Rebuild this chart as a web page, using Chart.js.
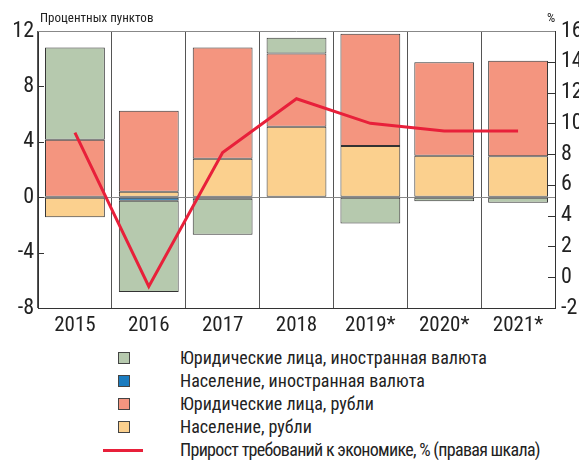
<!DOCTYPE html>
<html>
<head>
<meta charset="utf-8">
<script src="https://cdn.jsdelivr.net/npm/chart.js@4"></script>
<style>
  body { margin: 0; background: #fff; }
  #wrap { position: relative; width: 579px; height: 460px; font-family: Roboto, sans-serif; font-stretch: 75%; color: #222; }
  #grafica { position: absolute; left: 0; top: 0; }
  .titulo { position: absolute; font-size: 13px; }
  .leyenda { position: absolute; left: 0; top: 345px; width: 579px; }
  .item { position: absolute; left: 180px; font-size: 18px; line-height: 20px; white-space: nowrap; }
  .caja { position: absolute; left: -62px; top: 4px; width: 10px; height: 10px; border: 1px solid #444; }
  .linea { position: absolute; left: -77px; top: 9px; width: 40px; height: 3px; background: #e8203a; }
</style>
</head>
<body>
<div id="wrap">
  <canvas id="grafica" width="579" height="345"></canvas>
  <div class="titulo" style="left:40px; top:10px;">Процентных пунктов</div>
  <div class="titulo" style="left:547px; top:10px;">%</div>
  <div class="leyenda" id="leyenda"></div>
</div>
<script>
// datos
const anios = ['2015', '2016', '2017', '2018', '2019*', '2020*', '2021*'];
const poblacionRublos = [-1.45, 0.4, 2.77, 5.08, 3.7, 3.0, 2.95];
const empresasRublos = [4.15, 5.85, 8.03, 5.3, 8.1, 6.75, 6.9];
const poblacionDivisas = [null, -0.25, -0.12, null, null, null, null];
const empresasDivisas = [6.65, -6.6, -2.6, 1.13, -1.9, -0.3, -0.4];
const crecimiento = [9.4, -0.6, 8.1, 11.6, 10.0, 9.5, 9.5];

const verde = '#b6c9ae';
const azul = '#1b7cc0';
const rojo = '#f4957f';
const amarillo = '#fbd08e';
const rojoLinea = '#e8203a';

// Roboto estrechada (condensed) via el peso del shorthand
const fuente = (size) => ({ family: 'Roboto', size: size, weight: 'normal condensed' });

// marcas de los ejes hacia dentro del area
const marcasInternas = {
  id: 'marcasInternas',
  afterDatasetsDraw(chart) {
    const ctx = chart.ctx;
    const area = chart.chartArea;
    ctx.save();
    ctx.strokeStyle = '#333';
    ctx.lineWidth = 1;
    chart.scales.y.ticks.forEach(t => {
      const py = Math.round(chart.scales.y.getPixelForValue(t.value)) + 0.5;
      ctx.beginPath(); ctx.moveTo(area.left, py); ctx.lineTo(area.left + 6, py); ctx.stroke();
    });
    chart.scales.y2.ticks.forEach(t => {
      const py = Math.round(chart.scales.y2.getPixelForValue(t.value)) + 0.5;
      ctx.beginPath(); ctx.moveTo(area.right - 7, py); ctx.lineTo(area.right, py); ctx.stroke();
    });
    ctx.strokeStyle = '#888';
    ctx.beginPath(); ctx.moveTo(area.left, area.top + 0.5); ctx.lineTo(area.right, area.top + 0.5); ctx.stroke();
    ctx.restore();
  }
};

const barra = (label, data, color) => ({
  type: 'bar', label: label, data: data, backgroundColor: color,
  borderColor: '#333', borderWidth: 1, borderSkipped: false,
  yAxisID: 'y', stack: 's', order: 1,
  categoryPercentage: 1, barPercentage: 0.81
});

const chart = new Chart(document.getElementById('grafica'), {
  data: {
    labels: anios,
    datasets: [
      { type: 'line', label: 'Прирост требований к экономике, % (правая шкала)', data: crecimiento,
        borderColor: rojoLinea, borderWidth: 3, pointRadius: 0, tension: 0, yAxisID: 'y2', order: 0 },
      barra('Население, рубли', poblacionRublos, amarillo),
      barra('Юридические лица, рубли', empresasRublos, rojo),
      barra('Население, иностранная валюта', poblacionDivisas, azul),
      barra('Юридические лица, иностранная валюта', empresasDivisas, verde)
    ]
  },
  options: {
    responsive: false,
    animation: false,
    layout: { padding: { top: 31, left: 0, right: 0, bottom: 0 } },
    plugins: { legend: { display: false }, tooltip: { enabled: false } },
    scales: {
      x: {
        stacked: true,
        offset: true,
        grid: { offset: true, color: '#555', drawTicks: false },
        border: { color: '#333' },
        ticks: { color: '#222', font: fuente(21), padding: 5 },
        afterFit: s => { s.height = 37; }
      },
      y: {
        stacked: true, position: 'left', min: -8, max: 12,
        ticks: { stepSize: 4, color: '#222', font: fuente(22), padding: 4 },
        grid: { drawTicks: false, color: ctx => ctx.tick.value === 0 ? '#888' : 'rgba(0,0,0,0)' },
        border: { color: '#333' },
        afterFit: s => { s.width = 38; }
      },
      y2: {
        position: 'right', min: -2, max: 16,
        ticks: { stepSize: 2, color: '#222', font: fuente(22), padding: 6 },
        grid: { display: false, drawTicks: false },
        border: { color: '#333' },
        afterFit: s => { s.width = 24; }
      }
    }
  },
  plugins: [marcasInternas]
});

// leyenda vertical en html
const leyenda = document.getElementById('leyenda');
const items = [
  ['Юридические лица, иностранная валюта', verde, false],
  ['Население, иностранная валюта', azul, false],
  ['Юридические лица, рубли', rojo, false],
  ['Население, рубли', amarillo, false],
  ['Прирост требований к экономике, % (правая шкала)', rojoLinea, true]
];
items.forEach((it, i) => {
  const d = document.createElement('div');
  d.className = 'item';
  d.style.top = (3 + i * 23) + 'px';
  if (it[2]) d.style.letterSpacing = '-0.7px';
  d.textContent = it[0];
  const m = document.createElement('span');
  m.className = it[2] ? 'linea' : 'caja';
  m.style.background = it[1];
  d.appendChild(m);
  leyenda.appendChild(d);
});
</script>
</body>
</html>
